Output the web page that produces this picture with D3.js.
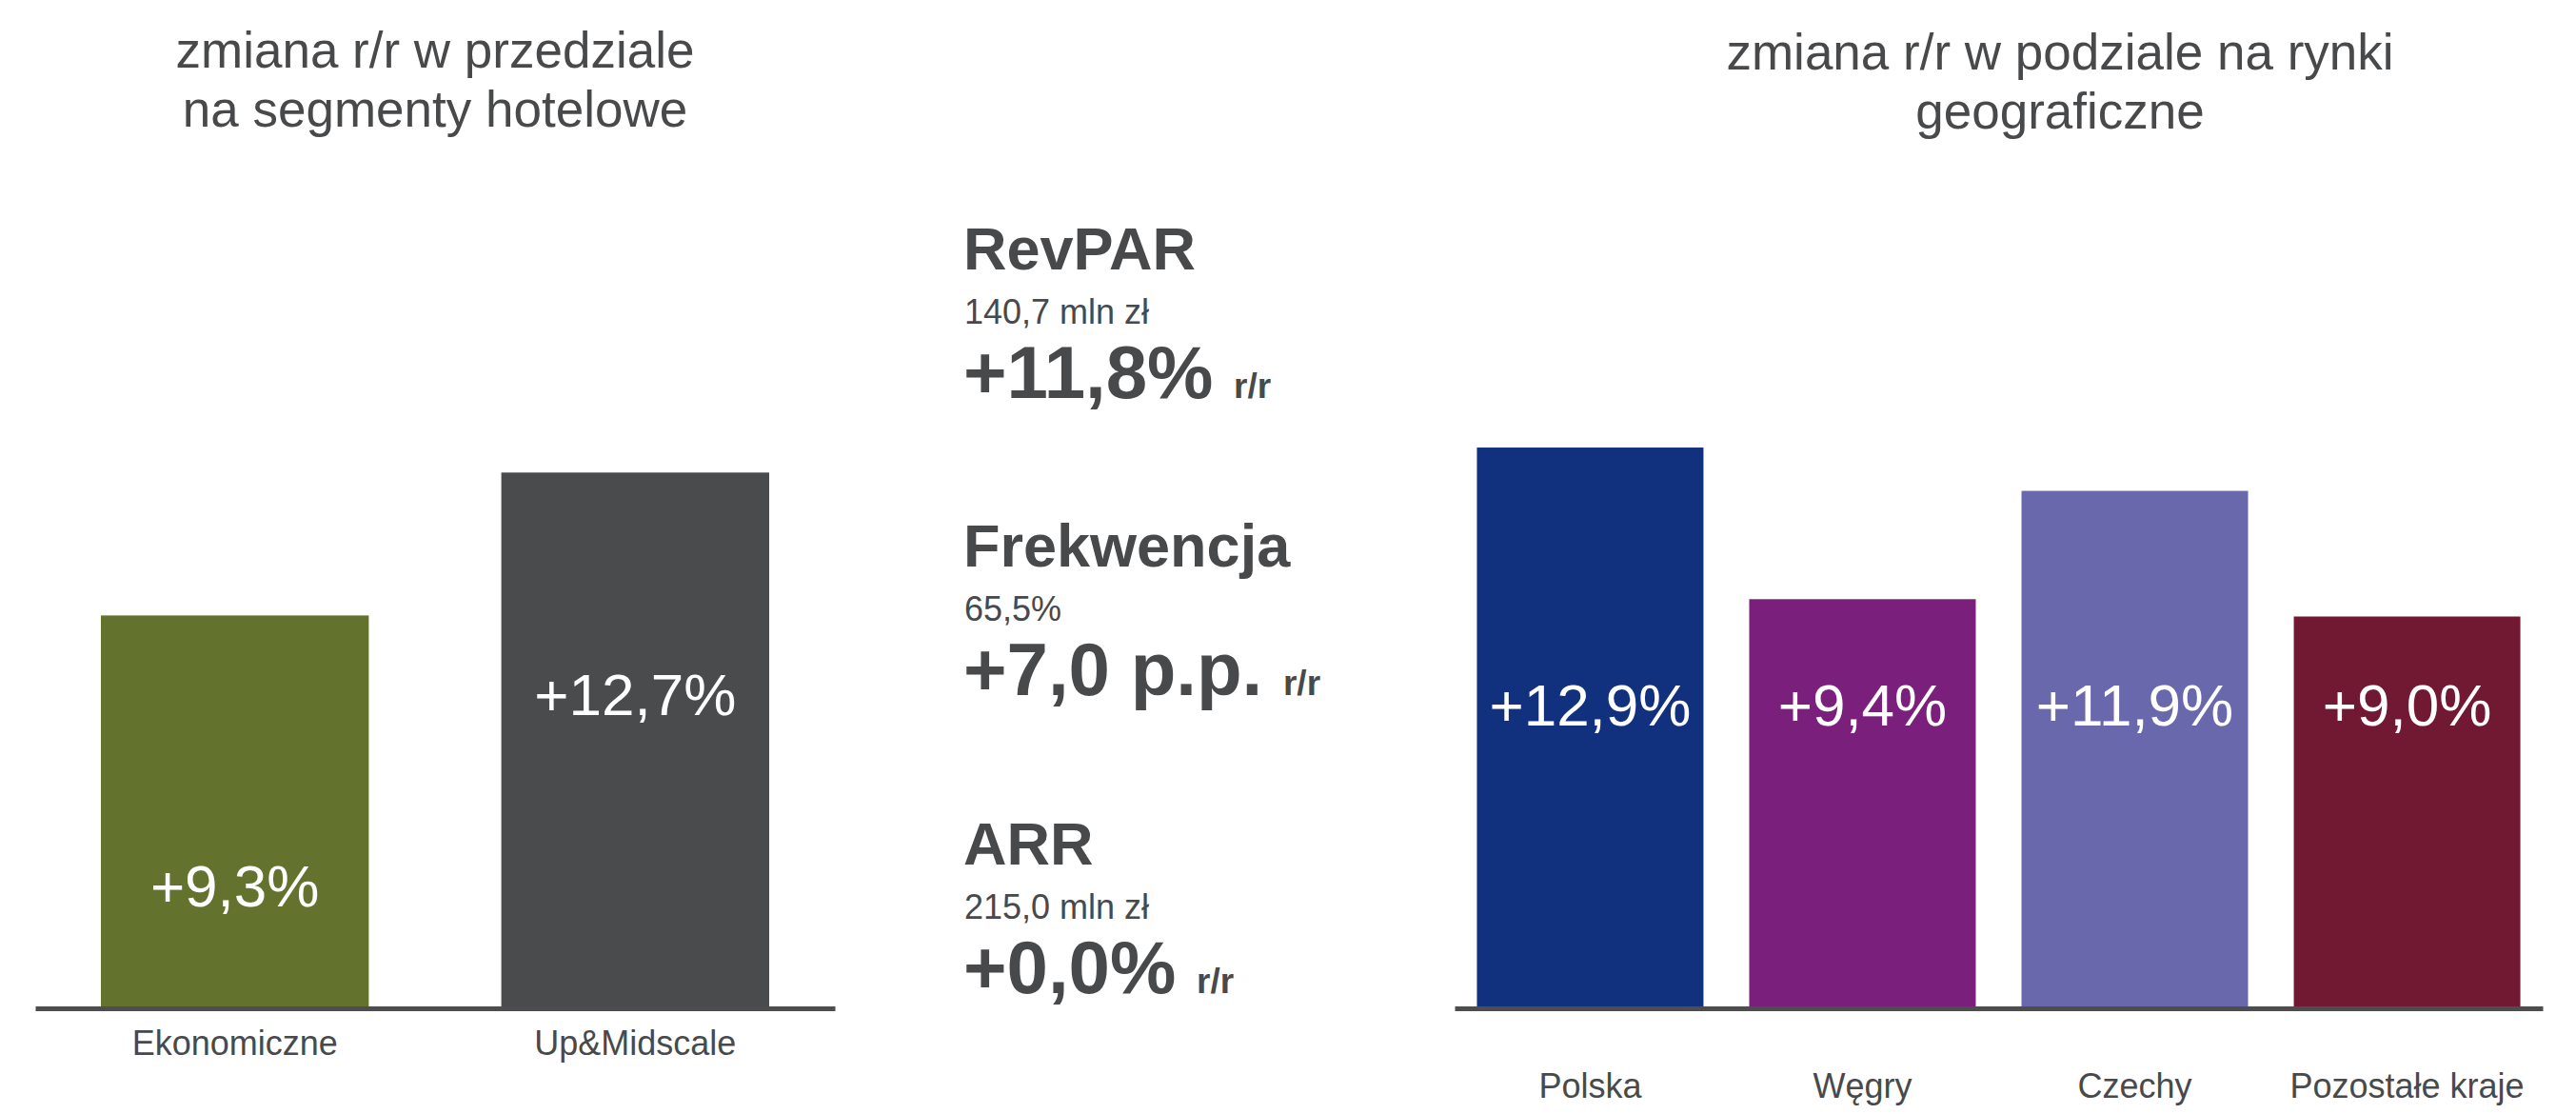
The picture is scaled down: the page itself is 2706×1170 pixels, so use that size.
<!DOCTYPE html>
<html lang="pl">
<head>
<meta charset="utf-8">
<title>zmiana r/r</title>
<script src="https://cdn.jsdelivr.net/npm/d3@7"></script>
<style>
  body { margin: 0; background: #fff; }
  svg text { font-family: "Liberation Sans", Arial, Helvetica, sans-serif; }
</style>
</head>
<body>
<svg id="chart" width="2706" height="1170"></svg>
<script>
// segmenty hotelowe
const segmentCategories = ['Ekonomiczne', 'Up&Midscale'];
const segmentValues = [9.3, 12.7];

// rynki geograficzne
const marketCategories = ['Polska', 'Węgry', 'Czechy', 'Pozostałe kraje'];
const marketValues = [12.9, 9.4, 11.9, 9.0];

// wskazniki w srodku
const kpiNames = ['RevPAR', 'Frekwencja', 'ARR'];
const kpiLevels = ['140,7 mln zł', '65,5%', '215,0 mln zł'];
const kpiChanges = ['+11,8%', '+7,0 p.p.', '+0,0%'];

const segmentColors = ['#63722d', '#4a4b4d'];
const marketColors = ['#11307d', '#7a1f7b', '#6a68ac', '#711833'];
const textColor = '#48494b';

const pl = d3.formatLocale({ decimal: ',', thousands: ' ', grouping: [3], currency: ['', ' zł'] });
const fmt = v => '+' + pl.format('.1f')(v) + '%';

const svg = d3.select('#chart');

function drawTitle(lines, x, y0, y1) {
  const t = svg.append('text')
    .attr('text-anchor', 'middle')
    .attr('font-size', 53)
    .attr('fill', textColor);
  t.append('tspan').attr('x', x).attr('y', y0).text(lines[0]);
  t.append('tspan').attr('x', x).attr('y', y1).text(lines[1]);
}

function drawBars(opts) {
  const x = d3.scaleBand()
    .domain(opts.categories)
    .range(opts.xRange)
    .paddingInner(opts.padInner)
    .paddingOuter(opts.padOuter);

  const y = d3.scaleLinear()
    .domain([0, 14])
    .range([1057, 1057 - 14 * opts.unit]);

  const g = svg.append('g');

  g.selectAll('rect')
    .data(opts.values)
    .join('rect')
    .attr('x', (d, i) => x(opts.categories[i]))
    .attr('width', x.bandwidth())
    .attr('y', d => y(d))
    .attr('height', d => y(0) - y(d))
    .attr('fill', (d, i) => opts.colors[i]);

  g.selectAll('text.val')
    .data(opts.values)
    .join('text')
    .attr('class', 'val')
    .attr('x', (d, i) => x(opts.categories[i]) + x.bandwidth() / 2)
    .attr('y', (d, i) => opts.labelY[i])
    .attr('text-anchor', 'middle')
    .attr('font-size', 62)
    .attr('fill', '#fff')
    .text(fmt);

  const axis = g.append('g')
    .attr('transform', 'translate(0,1059)')
    .call(d3.axisBottom(x).tickSize(0).tickSizeOuter(0).tickPadding(opts.tickPad));

  axis.select('.domain')
    .attr('stroke', '#4d4d4f')
    .attr('stroke-width', 5);
  axis.selectAll('text')
    .attr('font-size', 36)
    .attr('fill', textColor);
}

drawTitle(['zmiana r/r w przedziale', 'na segmenty hotelowe'], 457, 71, 133);
drawTitle(['zmiana r/r w podziale na rynki', 'geograficzne'], 2164, 73, 135);

drawBars({
  categories: segmentCategories,
  values: segmentValues,
  colors: segmentColors,
  xRange: [37, 877],
  padInner: 0.331,
  padOuter: 0.164,
  unit: 44.15,
  labelY: [952, 751],
  tickPad: 23
});

drawBars({
  categories: marketCategories,
  values: marketValues,
  colors: marketColors,
  xRange: [1528, 2671],
  padInner: 0.168,
  padOuter: 0.082,
  unit: 45.5,
  labelY: [762, 762, 762, 762],
  tickPad: 68
});

// blok wskaznikow
const kpiX = 1012;
const kpiTop = [283, 595, 908];

const kpi = svg.append('g').attr('fill', textColor);
kpiNames.forEach((name, i) => {
  const base = kpiTop[i];
  kpi.append('text')
    .attr('x', kpiX).attr('y', base)
    .attr('font-size', 63).attr('font-weight', 'bold')
    .text(name);
  kpi.append('text')
    .attr('x', kpiX + 1).attr('y', base + 57)
    .attr('font-size', 36)
    .text(kpiLevels[i]);
  const big = kpi.append('text')
    .attr('x', kpiX).attr('y', base + 135)
    .attr('font-weight', 'bold');
  big.append('tspan').attr('font-size', 78).text(kpiChanges[i] + ' ');
  big.append('tspan').attr('font-size', 37).text('r/r');
});
</script>
</body>
</html>
